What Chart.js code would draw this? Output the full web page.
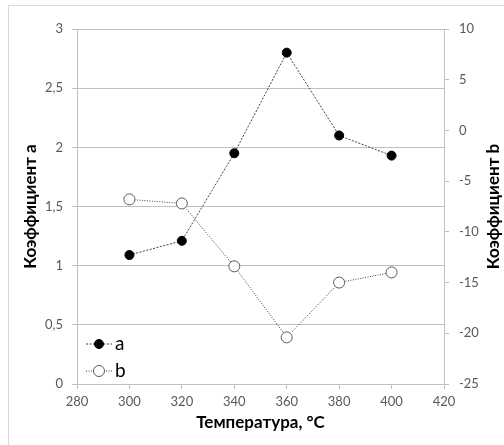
<!DOCTYPE html>
<html>
<head>
<meta charset="utf-8">
<script src="https://cdn.jsdelivr.net/npm/chart.js@4/dist/chart.umd.min.js"></script>
<style>
  html, body { margin: 0; padding: 0; background: #fff; }
  #frame {
    position: absolute; left: 8px; top: 5px; width: 520px; height: 460px;
    border-top: 1px solid #d9d9d9; border-left: 1px solid #d9d9d9;
  }
  #wrap { position: absolute; left: 0; top: 0; width: 504px; height: 445px; }
</style>
</head>
<body>
<div id="frame"></div>
<div id="wrap"><canvas id="chart" width="504" height="445"></canvas></div>
<script>
(function () {
  'use strict';

  var temperatures = [300, 320, 340, 360, 380, 400];
  var coefA = [1.09, 1.21, 1.95, 2.80, 2.10, 1.93];
  var coefB = [-6.8, -7.2, -13.4, -20.4, -15.0, -14.0];
  var seriesNames = ['a', 'b'];
  var titleA = 'Коэффициент a';
  var titleB = 'Коэффициент b';
  var titleX = 'Температура, °C';

  var family = 'Lato, "Open Sans", sans-serif';
  var tickFont = { family: family, size: 13 };
  var titleFont = { family: family, size: 17, weight: 'bold' };
  var tickColor = '#595959';
  var gridColor = '#bfbfbf';

  function pairs(xs, ys) {
    return xs.map(function (x, i) {
      return { x: x, y: ys[i] };
    });
  }

  function comma(v) {
    return String(v).replace('.', ',');
  }

  var extras = {
    id: 'extras',
    afterDraw: function (chart) {
      var ctx = chart.ctx;
      var area = chart.chartArea;
      ctx.save();

      // right axis title, reading bottom to top
      ctx.font = 'bold 17px ' + family;
      ctx.fillStyle = '#000';
      ctx.textAlign = 'center';
      ctx.textBaseline = 'middle';
      ctx.translate(494, (area.top + area.bottom) / 2);
      ctx.rotate(-Math.PI / 2);
      ctx.fillText(titleB, 0, 0);
      ctx.setTransform(1, 0, 0, 1, 0, 0);

      // legend inside the plot
      chart.data.datasets.forEach(function (ds, i) {
        var y = area.bottom - 40 + i * 27;
        var x0 = area.left + 9;
        ctx.strokeStyle = ds.borderColor;
        ctx.lineWidth = 1;
        ctx.setLineDash(ds.borderDash);
        ctx.beginPath();
        ctx.moveTo(x0, y);
        ctx.lineTo(x0 + 26, y);
        ctx.stroke();
        ctx.setLineDash([]);
        ctx.beginPath();
        ctx.arc(x0 + 13, y, ds.pointRadius, 0, Math.PI * 2);
        ctx.fillStyle = ds.pointBackgroundColor;
        ctx.fill();
        ctx.strokeStyle = ds.pointBorderColor;
        ctx.stroke();
        ctx.font = '19px ' + family;
        ctx.fillStyle = '#000';
        ctx.textAlign = 'left';
        ctx.textBaseline = 'middle';
        ctx.fillText(ds.label, x0 + 29, y);
      });
      ctx.restore();
    },
  };

  new Chart(document.getElementById('chart'), {
    type: 'line',
    data: {
      datasets: [
        {
          label: seriesNames[0],
          data: pairs(temperatures, coefA),
          yAxisID: 'y',
          borderColor: '#404040',
          borderWidth: 1,
          borderDash: [2, 1.5],
          pointRadius: 4.5,
          pointBackgroundColor: '#000',
          pointBorderColor: '#000',
          pointBorderWidth: 1,
        },
        {
          label: seriesNames[1],
          data: pairs(temperatures, coefB),
          yAxisID: 'y2',
          borderColor: '#404040',
          borderWidth: 1,
          borderDash: [1, 1.5],
          pointRadius: 5.5,
          pointBackgroundColor: '#fff',
          pointBorderColor: '#595959',
          pointBorderWidth: 1,
        },
      ],
    },
    options: {
      responsive: false,
      animation: false,
      layout: { padding: { top: 29, left: 0, right: 0, bottom: 0 } },
      plugins: { legend: { display: false }, tooltip: { enabled: false } },
      scales: {
        x: {
          type: 'linear',
          min: 280,
          max: 420,
          ticks: { stepSize: 20, font: tickFont, color: tickColor, padding: 5 },
          grid: { drawOnChartArea: false, tickLength: 5, color: gridColor },
          border: { color: gridColor },
          title: {
            display: true,
            text: titleX,
            font: titleFont,
            color: '#000',
            padding: { top: 0, bottom: 12 },
          },
          afterFit: function (s) { s.height = 61; },
        },
        y: {
          position: 'left',
          min: 0,
          max: 3,
          ticks: { stepSize: 0.5, font: tickFont, color: tickColor, padding: 9, callback: comma },
          grid: { color: gridColor, tickLength: 5 },
          border: { color: gridColor },
          title: {
            display: true,
            text: titleA,
            font: titleFont,
            color: '#000',
            padding: { top: 20, bottom: 0 },
          },
          afterFit: function (s) { s.width = 77; },
        },
        y2: {
          position: 'right',
          min: -25,
          max: 10,
          ticks: { stepSize: 5, font: tickFont, color: tickColor, padding: 10 },
          grid: { drawOnChartArea: false, tickLength: 5, color: gridColor },
          border: { color: gridColor },
          afterFit: function (s) { s.width = 60; },
        },
      },
    },
    plugins: [extras],
  });
})();
</script>
</body>
</html>
